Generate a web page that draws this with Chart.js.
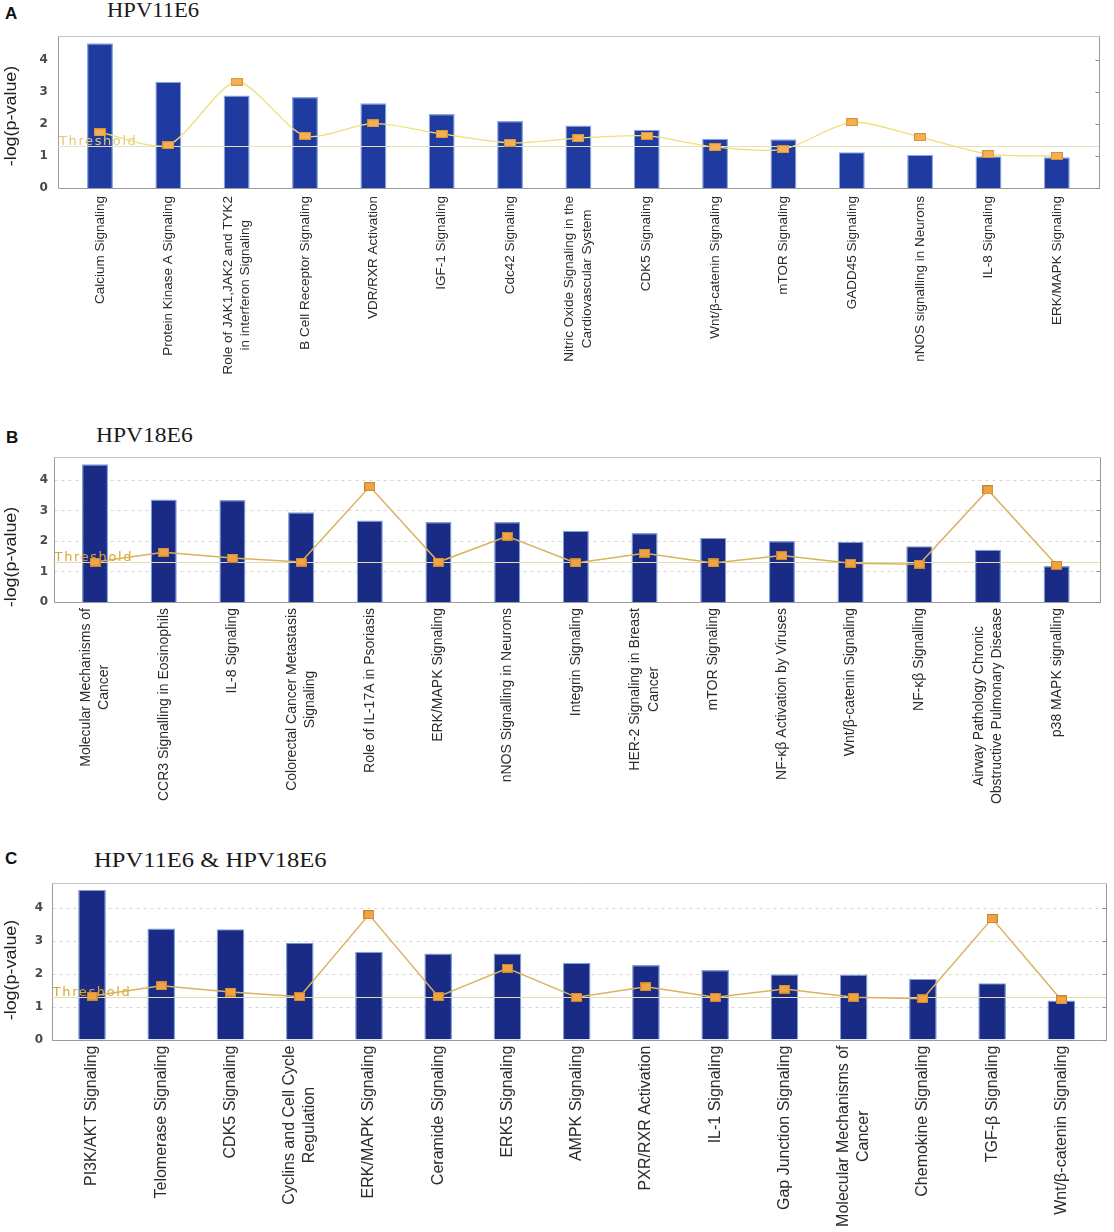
<!DOCTYPE html>
<html><head><meta charset="utf-8">
<script src="https://cdn.jsdelivr.net/npm/chart.js@4.4.1/dist/chart.umd.min.js"></script>
<style>
html,body{margin:0;padding:0;background:#fff;}
#wrap{position:relative;width:1114px;height:1232px;overflow:hidden;background:#fff;}
canvas{position:absolute;left:0;}
.lab{position:absolute;font:bold 17px "Liberation Sans",Arial,sans-serif;color:#111;line-height:17px;}
.ttl{position:absolute;font-family:"Liberation Serif","Times New Roman",serif;color:#1a1a1a;white-space:nowrap;transform-origin:0 0;}
</style></head><body>
<div id="wrap">
<div class="lab" style="left:5px;top:5px">A</div>
<div class="ttl" style="left:107px;top:0px;font-size:20px;line-height:20px;transform:scaleX(1.13)">HPV11E6</div>
<div class="lab" style="left:6px;top:429px">B</div>
<div class="ttl" style="left:96px;top:425px;font-size:21px;line-height:21px;transform:scaleX(1.12)">HPV18E6</div>
<div class="lab" style="left:5px;top:850px">C</div>
<div class="ttl" style="left:94px;top:850px;font-size:21px;line-height:21px;transform:scaleX(1.17)">HPV11E6 &amp; HPV18E6</div>
<canvas id="cA" width="1114" height="410" style="top:0px"></canvas>
<canvas id="cB" width="1114" height="410" style="top:420px"></canvas>
<canvas id="cC" width="1114" height="387" style="top:845px"></canvas>
</div>
<script>
// ---------------- DATA ----------------
const yTicks = [0, 1, 2, 3, 4];
const threshold = 1.3;

const catsA = [["Calcium Signaling"],["Protein Kinase A Signaling"],["Role of JAK1,JAK2 and TYK2","in interferon Signaling"],["B Cell Receptor Signaling"],["VDR/RXR Activation"],["IGF-1 Signaling"],["Cdc42 Signaling"],["Nitric Oxide Signaling in the","Cardiovascular System"],["CDK5 Signaling"],["Wnt/β-catenin Signaling"],["mTOR Signaling"],["GADD45 Signaling"],["nNOS signalling in Neurons"],["IL-8 Signaling"],["ERK/MAPK Signaling"]];
const logPA  = [4.52,3.32,2.89,2.84,2.65,2.31,2.09,1.95,1.82,1.54,1.52,1.12,1.04,0.99,0.96];
const ratioA = [1.74,1.34,3.32,1.63,2.02,1.69,1.41,1.56,1.63,1.28,1.21,2.06,1.59,1.06,1.00];

const catsB = [["Molecular Mechanisms of","Cancer"],["CCR3 Signalling in Eosinophils"],["IL-8 Signaling"],["Colorectal Cancer Metastasis","Signaling"],["Role of IL-17A in Psoriasis"],["ERK/MAPK Signaling"],["nNOS Signalling in Neurons"],["Integrin Signaling"],["HER-2 Signaling in Breast","Cancer"],["mTOR Signaling"],["NF-κβ Activation by Viruses"],["Wnt/β-catenin Signaling"],["NF-κβ Signalling"],["Airway Pathology Chronic","Obstructive Pulmonary Disease"],["p38 MAPK signalling"]];
const logPB  = [4.51,3.36,3.34,2.94,2.67,2.62,2.62,2.33,2.26,2.10,2.00,1.97,1.83,1.71,1.18];
const ratioB = [1.31,1.63,1.44,1.31,3.78,1.31,2.15,1.28,1.60,1.28,1.52,1.27,1.24,3.67,1.20];

const catsC = [["PI3K/AKT Signaling"],["Telomerase Signaling"],["CDK5 Signaling"],["Cyclins and Cell Cycle","Regulation"],["ERK/MAPK Signaling"],["Ceramide Signaling"],["ERK5 Signaling"],["AMPK Signaling"],["PXR/RXR Activation"],["IL-1 Signaling"],["Gap Junction Signaling"],["Molecular Mechanisms of","Cancer"],["Chemokine Signaling"],["TGF-β Signaling"],["Wnt/β-catenin Signaling"]];
const logPC  = [4.54,3.37,3.35,2.94,2.66,2.61,2.61,2.33,2.26,2.11,1.98,1.97,1.84,1.71,1.18];
const ratioC = [1.32,1.63,1.44,1.30,3.79,1.30,2.16,1.28,1.60,1.28,1.53,1.28,1.24,3.67,1.20];

// ---------------- DRAWING ----------------
function marker(w, h, fill, stroke) {
  const c = document.createElement('canvas');
  c.width = w; c.height = h;
  const g = c.getContext('2d');
  g.fillStyle = stroke; g.fillRect(0, 0, w, h);
  g.fillStyle = fill; g.fillRect(1, 1, w - 2, h - 2);
  return c;
}

const decor = {
  id: 'panelDecor',
  beforeDatasetsDraw(chart, args, o) {
    const {ctx, chartArea: a, scales: {y}} = chart;
    const L = Math.round(a.left - o.extL) + 0.5, R = Math.round(a.right + o.extR) + 0.5;
    const T = Math.round(a.top) + 0.5, B = Math.round(a.bottom) + 0.5;
    ctx.save();
    if (o.grid) {
      ctx.strokeStyle = o.grid; ctx.lineWidth = 1; ctx.setLineDash([3, 4]);
      yTicks.forEach(v => {
        if (v === 0) return;
        const py = Math.round(y.getPixelForValue(v)) + 0.5;
        ctx.beginPath(); ctx.moveTo(L, py); ctx.lineTo(R, py); ctx.stroke();
      });
      ctx.setLineDash([]);
    }
    ctx.lineWidth = 1;
    ctx.strokeStyle = '#c4c4c4';
    ctx.beginPath(); ctx.moveTo(L, T); ctx.lineTo(R, T); ctx.stroke();
    ctx.strokeStyle = '#9a9a9a';
    ctx.beginPath(); ctx.moveTo(L, T); ctx.lineTo(L, B); ctx.lineTo(R, B); ctx.lineTo(R, T); ctx.stroke();
    ctx.strokeStyle = '#8a8a8a';
    yTicks.forEach(v => {
      const py = Math.round(y.getPixelForValue(v)) + 0.5;
      ctx.beginPath(); ctx.moveTo(R - 4, py); ctx.lineTo(R, py); ctx.stroke();
    });
    ctx.restore();
  },
  afterDatasetDraw(chart, args, o) {
    if (args.index !== 0) return;
    const {ctx, chartArea: a, scales: {y}} = chart;
    const L = a.left - o.extL, R = a.right + o.extR;
    const py = Math.round(y.getPixelForValue(threshold)) + 0.5;
    ctx.save();
    ctx.strokeStyle = o.thrLine; ctx.lineWidth = 1;
    ctx.beginPath(); ctx.moveTo(L, py); ctx.lineTo(R, py); ctx.stroke();
    ctx.font = '13px "DejaVu Sans", sans-serif';
    ctx.letterSpacing = '1.6px';
    ctx.fillStyle = o.thrText;
    ctx.textAlign = 'left'; ctx.textBaseline = 'alphabetic';
    ctx.fillText('Threshold', L + 1, py - 2);
    ctx.restore();
  },
  afterDraw(chart, args, o) {
    const {ctx, chartArea: a, scales: {x}} = chart;
    ctx.save();
    ctx.font = o.xFont; ctx.fillStyle = '#2b2b2b'; ctx.textBaseline = 'middle'; ctx.textAlign = 'center';
    chart.data.labels.forEach((lines, i) => {
      const px = x.getPixelForValue(i);
      const top = a.bottom + o.gap;
      const mw = Math.max(...lines.map(l => ctx.measureText(l).width));
      ctx.save();
      ctx.translate(px, top);
      ctx.rotate(-Math.PI / 2);
      lines.forEach((l, j) => {
        const off = (j - (lines.length - 1) / 2) * o.lh;
        ctx.fillText(l, -mw / 2, off);
      });
      ctx.restore();
    });
    // y title
    ctx.translate(o.yTitleX, o.yTitleY);
    ctx.rotate(-Math.PI / 2);
    ctx.scale(1.12, 1);
    ctx.font = '16px "Liberation Sans", Arial, sans-serif';
    ctx.fillStyle = '#222';
    ctx.fillText('-log(p-value)', 0, 0);
    ctx.restore();
  }
};

function makeChart(id, cats, logP, ratio, st) {
  const canvas = document.getElementById(id);
  return new Chart(canvas, {
    type: 'bar',
    data: {
      labels: cats,
      datasets: [
        {
          type: 'bar', data: logP, order: 2,
          backgroundColor: st.bar, borderColor: st.barEdge, borderWidth: 1.2,
          barPercentage: st.barPct, categoryPercentage: 1
        },
        {
          type: 'line', data: ratio, order: 1,
          borderColor: st.line, borderWidth: st.lineW, tension: st.tension,
          pointStyle: marker(st.mw, st.mh, st.mFill, st.mEdge), pointRadius: 5,
          fill: false
        }
      ]
    },
    options: {
      responsive: false, animation: false, devicePixelRatio: 1,
      layout: {padding: st.pad},
      plugins: {legend: {display: false}, tooltip: {enabled: false}, panelDecor: st.decor},
      scales: {
        x: {
          type: 'category', offset: true,
          grid: {display: false}, border: {display: false},
          ticks: {display: false},
          afterFit: s => { s.height = 0; }
        },
        y: {
          min: 0, max: 4.75,
          grid: {display: false, drawTicks: false}, border: {display: false},
          ticks: {stepSize: 1, includeBounds: false, padding: st.tickPad, color: '#4a4a4a',
                  font: {family: '"DejaVu Sans", Verdana, sans-serif', size: 12, weight: 'bold'}},
          afterFit: s => { s.width = 30; }
        }
      }
    },
    plugins: [decor]
  });
}

makeChart('cA', catsA, logPA, ratioA, {
  bar: '#1f3b9f', barEdge: '#86a6e4', barPct: 0.38,
  line: '#f1df78', lineW: 1.3, tension: 0.25,
  mw: 12, mh: 8, mFill: '#f3b054', mEdge: '#d89236',
  pad: {left: 35.8, right: 23, top: 36, bottom: 222}, tickPad: 18,
  decor: {extL: 7.8, extR: 8, grid: null, thrLine: '#e6e0bc', thrText: '#e2c878',
          xFont: '13.5px "Liberation Sans", Arial, sans-serif', gap: 8, lh: 17.5,
          yTitleX: 12, yTitleY: 116}
});
makeChart('cB', catsB, logPB, ratioB, {
  bar: '#1a2b86', barEdge: '#7f9fdc', barPct: 0.38,
  line: '#d8b45e', lineW: 1.5, tension: 0,
  mw: 11, mh: 9, mFill: '#f0a244', mEdge: '#c98730',
  pad: {left: 30.7, right: 23, top: 37, bottom: 228}, tickPad: 12.7,
  decor: {extL: 7.1, extR: 8.6, grid: '#d6d6d6', thrLine: '#e3dab0', thrText: '#d9a62c',
          xFont: '14px "Liberation Sans", Arial, sans-serif', gap: 6, lh: 18.5,
          yTitleX: 12, yTitleY: 137}
});
makeChart('cC', catsC, logPC, ratioC, {
  bar: '#1a2b86', barEdge: '#7f9fdc', barPct: 0.4,
  line: '#d8b45e', lineW: 1.5, tension: 0,
  mw: 11, mh: 9, mFill: '#f0a244', mEdge: '#c98730',
  pad: {left: 27.4, right: 18, top: 38, bottom: 192.5}, tickPad: 14.4,
  decor: {extL: 5.6, extR: 10, grid: '#d6d6d6', thrLine: '#e3dab0', thrText: '#d9a62c',
          xFont: '16px "Liberation Sans", Arial, sans-serif', gap: 6, lh: 20,
          yTitleX: 12, yTitleY: 125}
});
</script>
</body></html>
